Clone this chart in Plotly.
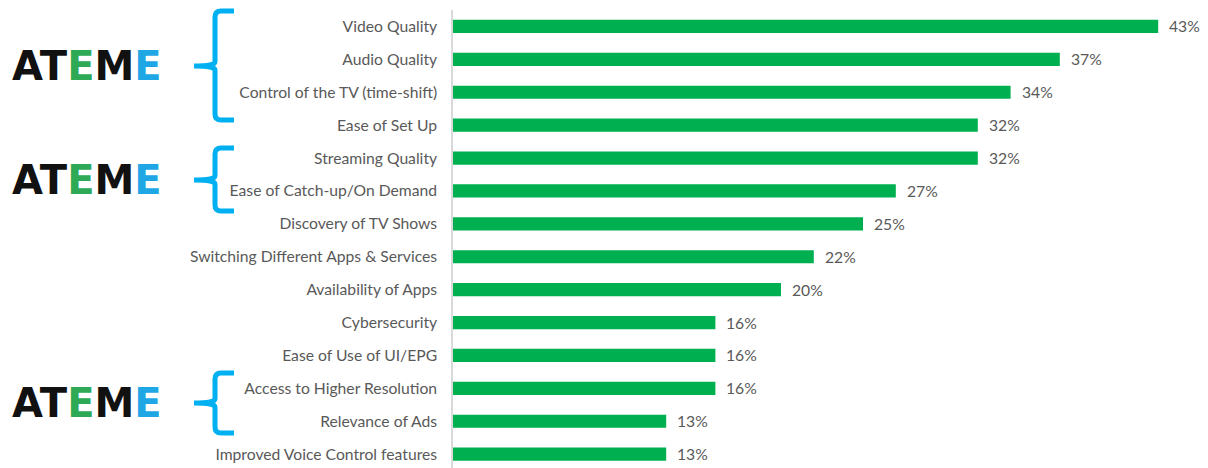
import plotly.graph_objects as go

categories = [
    "Video Quality", "Audio Quality", "Control of the TV (time-shift)", "Ease of Set Up",
    "Streaming Quality", "Ease of Catch-up/On Demand", "Discovery of TV Shows",
    "Switching Different Apps & Services", "Availability of Apps", "Cybersecurity",
    "Ease of Use of UI/EPG", "Access to Higher Resolution", "Relevance of Ads",
    "Improved Voice Control features",
]
values = [43, 37, 34, 32, 32, 27, 25, 22, 20, 16, 16, 16, 13, 13]
value_labels = [f"{v}%" for v in values]
logo_text = "ATEME"

W, H = 1208, 468
ML, MR, MT, MB = 453, 1, 10, 0
PW, PH = W - ML - MR, H - MT - MB


def px(x):
    return (x - ML) / PW


def py(y):
    return (H - MB - y) / PH


GREEN = "#00B050"
BLUE = "#00B0F0"
GRAY = "#595959"
FONT = "Lato, Carlito, sans-serif"

fig = go.Figure()
fig.add_trace(go.Bar(
    x=values, y=categories, orientation="h",
    marker=dict(color=GREEN, line=dict(width=0)),
    hoverinfo="skip",
))

for c, v, t in zip(categories, values, value_labels):
    fig.add_annotation(x=v, y=c, xref="x", yref="y", text=t, showarrow=False,
                       xanchor="left", yanchor="middle", xshift=9,
                       font=dict(family=FONT, size=15.7, color=GRAY))


def brace(top, mid, bot, xv=215, xr=234, xt=194):
    r = 6
    pts = (
        f"M {px(xr)},{py(top)} L {px(xv + r)},{py(top)} "
        f"Q {px(xv)},{py(top)} {px(xv)},{py(top + r)} "
        f"L {px(xv)},{py(mid - 4)} Q {px(xv)},{py(mid)} {px(xt)},{py(mid)} "
        f"Q {px(xv)},{py(mid)} {px(xv)},{py(mid + 4)} "
        f"L {px(xv)},{py(bot - r)} Q {px(xv)},{py(bot)} {px(xv + r)},{py(bot)} "
        f"L {px(xr)},{py(bot)}"
    )
    fig.add_shape(type="path", path=pts, xref="paper", yref="paper",
                  line=dict(color=BLUE, width=5), layer="above")


for top, mid, bot in [(11, 66, 120), (148, 180, 211), (373, 403, 433)]:
    brace(top, mid, bot)
    fig.add_annotation(
        x=px(87), y=py(mid), xref="paper", yref="paper", showarrow=False,
        xanchor="center", yanchor="middle",
        text=(f"<span style='color:#111111'>{logo_text[0:2]}</span>"
              f"<span style='color:#2EAA57'>{logo_text[2]}</span>"
              f"<span style='color:#111111'>{logo_text[3]}</span>"
              f"<span style='color:#1EA7E4'>{logo_text[4]}</span>"),
        font=dict(family="DejaVu Sans", size=40, weight="bold"),
    )

fig.update_layout(
    width=W, height=H,
    margin=dict(l=ML, r=MR, t=MT, b=MB, pad=0),
    paper_bgcolor="white", plot_bgcolor="white",
    showlegend=False, bargap=0.6,
    xaxis=dict(range=[0, PW / 16.4], visible=False, fixedrange=True),
    yaxis=dict(range=[PH / 32.9 - 0.5, -0.5],
               showline=True, linecolor="#D9D9D9", linewidth=1.5,
               showgrid=False, zeroline=False, ticks="", ticklabelstandoff=11,
               tickfont=dict(family=FONT, size=15.7, color=GRAY),
               fixedrange=True),
)

fig.write_html("out.html", config={"displayModeBar": False},
               post_script="document.body.style.margin='0';")
